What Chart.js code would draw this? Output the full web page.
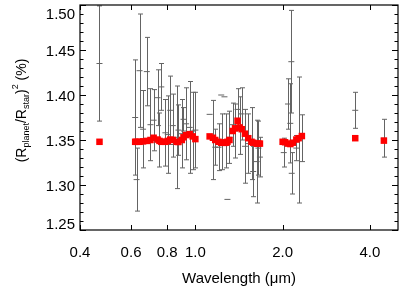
<!DOCTYPE html>
<html>
<head>
<meta charset="utf-8">
<script src="https://cdn.jsdelivr.net/npm/chart.js@4.4.0/dist/chart.umd.min.js"></script>
<style>
  html, body { margin: 0; padding: 0; background: #fff; }
</style>
</head>
<body>
<canvas id="chart" width="415" height="296"></canvas>
<script>
// measured transit depths with 1-sigma errors (black)
const dataWave = [0.467,
    0.620, 0.627, 0.642, 0.660, 0.680, 0.700, 0.718, 0.741, 0.752, 0.763, 0.788,
    0.803, 0.819, 0.836, 0.862, 0.874, 0.898, 0.910, 0.929, 0.956, 0.979, 1.000,
    1.120, 1.150, 1.171, 1.202, 1.228, 1.240, 1.260, 1.277, 1.290, 1.311, 1.346,
    1.371, 1.398, 1.420, 1.445, 1.483, 1.522, 1.562, 1.583, 1.627, 1.650, 1.670,
    2.018, 2.087, 2.125, 2.143, 2.150, 2.230, 2.271, 2.331, 3.56, 4.47];
const dataDepth = [1.435,
    1.375, 1.306, 1.427, 1.362, 1.426, 1.367, 1.372, 1.397, 1.350, 1.409, 1.358,
    1.356, 1.383, 1.366, 1.353, 1.361, 1.357, 1.373, 1.368, 1.364, 1.360, 1.361,
    1.3785, 1.350, 1.342, 1.342, 1.400, 1.348, 1.398, 1.349, 1.284, 1.353, 1.367,
    1.360, 1.384, 1.366, 1.379, 1.343, 1.346, 1.346, 1.315, 1.326, 1.341, 1.331,
    1.336, 1.390, 1.3685, 1.437, 1.313, 1.341, 1.350, 1.352, 1.383, 1.352];
const dataErr = [0.064,
    0.064, 0.035, 0.063, 0.043, 0.038, 0.040, 0.034, 0.031, 0.030, 0.026, 0.037,
    0.043, 0.038, 0.035, 0.057, 0.028, 0.038, 0.013, 0.040, 0.051, 0.043, 0.042,
    0, 0.044, 0.020, 0.026, 0, 0.031, 0, 0.030, 0, 0.029, 0.024,
    0.030, 0.023, 0.032, 0.029, 0.041, 0.033, 0.040, 0.028, 0.046, 0.030, 0.022,
    0.016, 0.028, 0.044, 0.057, 0.023, 0.014, 0.070, 0.026, 0.020, 0.021];

// binned model (red squares)
const modelWave = [0.467,
    0.620, 0.627, 0.642, 0.660, 0.680, 0.700, 0.718, 0.741, 0.752, 0.763, 0.788,
    0.803, 0.819, 0.836, 0.862, 0.874, 0.898, 0.910, 0.929, 0.956, 0.979, 1.000,
    1.120, 1.150, 1.171, 1.202, 1.228, 1.240, 1.260, 1.277, 1.290, 1.311, 1.346,
    1.371, 1.398, 1.420, 1.445, 1.483, 1.522, 1.562, 1.583, 1.627, 1.650, 1.670,
    2.000, 2.040, 2.087, 2.127, 2.170, 2.230, 2.270, 2.330, 3.56, 4.47];
const modelDepth = [1.348,
    1.348, 1.348, 1.348, 1.3485, 1.349, 1.350, 1.3525, 1.3505, 1.349, 1.348, 1.348,
    1.349, 1.3505, 1.350, 1.348, 1.3478, 1.350, 1.353, 1.3555, 1.3565, 1.354, 1.351,
    1.354, 1.3525, 1.350, 1.348, 1.347, 1.347, 1.3468, 1.347, 1.348, 1.350, 1.360,
    1.363, 1.3714, 1.364, 1.362, 1.357, 1.352, 1.348, 1.347, 1.346, 1.346, 1.346,
    1.348, 1.3475, 1.346, 1.3455, 1.347, 1.3505, 1.352, 1.3544, 1.352, 1.3493];

const xTickValues = [0.4, 0.6, 0.8, 1.0, 2.0, 4.0];
const yTickLabels = [1.25, 1.30, 1.35, 1.40, 1.45, 1.50];

const FONT = "'Liberation Sans', Arial, Helvetica, sans-serif";
const BAR_COLOR = 'rgb(100,100,100)';

// error bars, frame, inward ticks, y labels and y title
const frameAndErrors = {
    id: 'frameAndErrors',
    beforeDatasetsDraw(chart) {
        const {ctx, scales: {x, y}} = chart;
        ctx.save();
        ctx.strokeStyle = BAR_COLOR;
        ctx.lineWidth = 1;
        dataWave.forEach((w, i) => {
            const err = dataErr[i];
            if (!err) return;
            const px = Math.round(x.getPixelForValue(w)) + 0.5;
            const top = y.getPixelForValue(dataDepth[i] + err);
            const bot = y.getPixelForValue(dataDepth[i] - err);
            ctx.beginPath();
            ctx.moveTo(px, top); ctx.lineTo(px, bot);
            ctx.moveTo(px - 2.5, top); ctx.lineTo(px + 2.5, top);
            ctx.moveTo(px - 2.5, bot); ctx.lineTo(px + 2.5, bot);
            ctx.stroke();
        });
        ctx.restore();
    },
    afterDraw(chart) {
        const {ctx, chartArea: a, scales: {x, y}} = chart;
        ctx.save();
        ctx.strokeStyle = '#000';
        ctx.lineWidth = 1.2;
        ctx.strokeRect(a.left, a.top, a.right - a.left, a.bottom - a.top);

        ctx.lineWidth = 1;
        ctx.beginPath();
        xTickValues.forEach(v => {
            const px = Math.round(x.getPixelForValue(v)) + 0.5;
            ctx.moveTo(px, a.bottom); ctx.lineTo(px, a.bottom - 5);
            ctx.moveTo(px, a.top); ctx.lineTo(px, a.top + 5);
        });
        for (let i = 0; i <= 25; i++) {
            const py = Math.round(y.getPixelForValue(1.25 + i * 0.01)) + 0.5;
            const len = i % 5 === 0 ? 6 : 3.5;
            ctx.moveTo(a.left, py); ctx.lineTo(a.left + len, py);
            ctx.moveTo(a.right, py); ctx.lineTo(a.right - len, py);
        }
        ctx.stroke();

        // y tick labels (kept inside the frame at the ends, like the original)
        ctx.fillStyle = '#000';
        ctx.font = '15px ' + FONT;
        ctx.textAlign = 'right';
        ctx.textBaseline = 'middle';
        yTickLabels.forEach(v => {
            let py = y.getPixelForValue(v) + 2;
            py = Math.min(Math.max(py, a.top + 10), a.bottom - 5);
            ctx.fillText(v.toFixed(2), a.left - 5, py);
        });

        // y title: (R_planet/R_star)^2 (%)
        const parts = [
            {t: '(R', s: 14, dy: 0},
            {t: 'planet', s: 9, dy: 3},
            {t: '/R', s: 14, dy: 0},
            {t: 'star', s: 9, dy: 3},
            {t: ')', s: 14, dy: 0},
            {t: '2', s: 9, dy: -8},
            {t: ' (%)', s: 14, dy: 0}
        ];
        let total = 0;
        parts.forEach(p => {
            ctx.font = p.s + 'px ' + FONT;
            p.w = ctx.measureText(p.t).width;
            total += p.w;
        });
        ctx.translate(26, (a.top + a.bottom) / 2 - 7);
        ctx.rotate(-Math.PI / 2);
        ctx.textAlign = 'left';
        ctx.textBaseline = 'alphabetic';
        let cx = -total / 2;
        parts.forEach(p => {
            ctx.font = p.s + 'px ' + FONT;
            ctx.fillText(p.t, cx, p.dy);
            cx += p.w;
        });
        ctx.restore();
    }
};

Chart.defaults.font.family = FONT;

new Chart(document.getElementById('chart'), {
    type: 'scatter',
    data: {
        datasets: [
            {
                label: 'Model',
                data: modelWave.map((w, i) => ({x: w, y: modelDepth[i]})),
                pointStyle: 'rect',
                pointRadius: 4.6,
                backgroundColor: '#ff0000',
                borderWidth: 0,
                order: 0
            },
            {
                label: 'Data',
                data: dataWave.map((w, i) => ({x: w, y: dataDepth[i]})),
                pointStyle: 'line',
                pointRadius: 3,
                borderColor: BAR_COLOR,
                borderWidth: 1,
                order: 1
            }
        ]
    },
    options: {
        responsive: false,
        animation: false,
        layout: { padding: { left: 80, right: 17, top: 5, bottom: 8 } },
        plugins: {
            legend: { display: false },
            tooltip: { enabled: false }
        },
        scales: {
            x: {
                type: 'logarithmic',
                min: 0.4,
                max: 5.0,
                afterBuildTicks: scale => {
                    scale.ticks = xTickValues.map(v => ({value: v}));
                },
                grid: { display: false, drawTicks: true, tickLength: 11 },
                border: { display: false },
                ticks: {
                    callback: v => Number(v).toFixed(1),
                    font: { size: 15 },
                    color: '#000',
                    padding: 3,
                    maxRotation: 0,
                    autoSkip: false
                },
                title: {
                    display: true,
                    text: 'Wavelength (μm)',
                    font: { size: 15 },
                    color: '#000',
                    padding: { top: 5, bottom: 0 }
                }
            },
            y: {
                min: 1.25,
                max: 1.50,
                grid: { display: false, drawTicks: false },
                border: { display: false },
                ticks: { display: false }
            }
        }
    },
    plugins: [frameAndErrors]
});
</script>
</body>
</html>
